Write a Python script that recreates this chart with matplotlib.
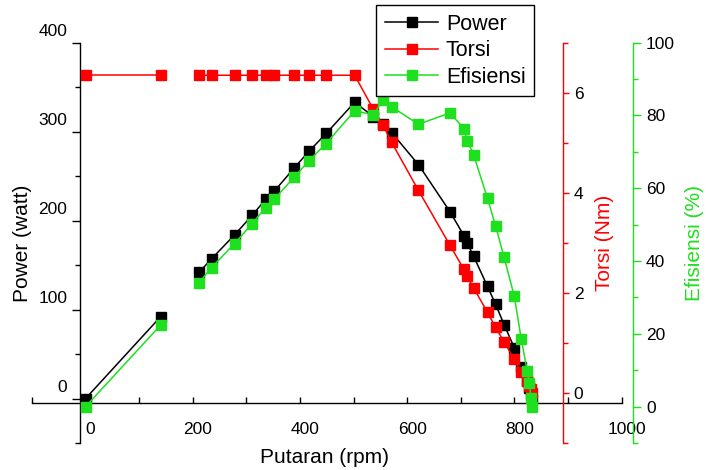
import numpy as np
import matplotlib
matplotlib.use("Agg")
import matplotlib.pyplot as plt
import matplotlib.transforms as mtransforms
from matplotlib.ticker import MultipleLocator

# data
rpm = [0, 140, 212, 235, 278, 311, 336, 352, 389, 417, 449, 502, 537, 555, 571,
       621, 680, 706, 712, 724, 750, 765, 781, 800, 813, 824, 828, 831, 833]
power = [0, 92, 142, 157, 184, 206, 224, 233, 259, 278, 298, 333, 317, 309, 299,
         263, 210, 183, 175, 160, 126, 106, 83, 57, 35, 20, 12, 5, 0]
torsi = [6.35, 6.35, 6.35, 6.35, 6.35, 6.35, 6.35, 6.35, 6.35, 6.35, 6.35, 6.35, 5.67, 5.35, 5.01,
         4.05, 2.95, 2.47, 2.33, 2.10, 1.61, 1.31, 1.02, 0.67, 0.41, 0.23, 0.13, 0.07, 0.0]
efisiensi = [0, 22.4, 34.1, 38.2, 44.8, 50.3, 54.7, 57.0, 63.0, 67.6, 72.3, 81.3, 80.2, 84.3, 82.4,
             77.6, 80.7, 76.4, 73.1, 69.2, 57.2, 49.7, 41.0, 30.3, 18.5, 9.8, 6.6, 2.5, 0]
gap = 2  # no line drawn between the 2nd and 3rd reading

RED = "#FF0000"
GREEN = "#1EE01E"

plt.rcParams.update({"font.family": ["Liberation Sans", "DejaVu Sans"], "font.size": 12.5})

fig = plt.figure(figsize=(7.06, 4.70), dpi=100)
ax = fig.add_axes([32 / 706, 27 / 470, 589.5 / 706, 400.3 / 470])
ax2 = ax.twinx()
ax3 = ax.twinx()
for a in (ax, ax2, ax3):
    a.patch.set_visible(False)


def draw(a, y, color, label):
    a.plot(rpm[:gap], y[:gap], color=color, lw=1.1)
    a.plot(rpm[gap:], y[gap:], color=color, lw=1.1)
    a.plot(rpm, y, ls="none", marker="s", ms=6.5, color=color)
    # proxy for the legend
    return a.plot([], [], color=color, lw=1.1, marker="s", ms=6.5, label=label)[0]


h1 = draw(ax, power, "black", "Power")
h2 = draw(ax2, torsi, RED, "Torsi")
h3 = draw(ax3, efisiensi, GREEN, "Efisiensi")

# host axes: power + rpm
ax.set_xlim(-100, 1000)
ax.set_ylim(-50, 400)
ax.spines["top"].set_visible(False)
ax.spines["right"].set_visible(False)
ax.spines["left"].set_position(("data", -10))
ax.spines["bottom"].set_position(("axes", 0.1))
ax.set_xticks([0, 200, 400, 600, 800, 1000])
ax.xaxis.set_minor_locator(MultipleLocator(100))
ax.set_yticks([0, 100, 200, 300, 400])
ax.yaxis.set_minor_locator(MultipleLocator(50))
ax.tick_params(axis="x", which="both", direction="in", length=4.5, width=1, pad=14, labelsize=12.5)
ax.tick_params(axis="y", which="major", direction="out", length=5.8, width=1, pad=3.5, labelsize=12.5)
ax.tick_params(axis="y", which="minor", direction="out", length=3.6, width=1)
for s in ("left", "bottom"):
    ax.spines[s].set_linewidth(1)

off_x = mtransforms.ScaledTranslation(0.05, 0, fig.dpi_scale_trans)
for lab in ax.get_xticklabels():
    lab.set_transform(lab.get_transform() + off_x)
off_y = mtransforms.ScaledTranslation(0, 0.13, fig.dpi_scale_trans)
for lab in ax.get_yticklabels():
    lab.set_transform(lab.get_transform() + off_y)

ax.set_xlabel("Putaran (rpm)", fontsize=15)
ax.xaxis.set_label_coords(0.497, -0.012)
ax.set_ylabel("Power (watt)", fontsize=15)
ax.yaxis.set_label_coords(0.0, 0.5)

# torsi axis
ax2.set_ylim(-1, 7)
for s in ("top", "left", "bottom"):
    ax2.spines[s].set_visible(False)
ax2.spines["right"].set_position(("axes", 0.9015))
ax2.spines["right"].set_color(RED)
ax2.spines["right"].set_linewidth(1)
ax2.set_yticks([0, 2, 4, 6])
ax2.yaxis.set_minor_locator(MultipleLocator(1))
ax2.tick_params(axis="y", which="both", direction="out", color=RED, width=1, labelsize=12.5)
ax2.tick_params(axis="y", which="major", length=4, pad=3.5)
ax2.tick_params(axis="y", which="minor", length=3.6)
ax2.set_ylabel("Torsi (Nm)", color=RED, fontsize=15)
ax2.yaxis.set_label_coords(0.955, 0.5)

# efisiensi axis
ax3.set_ylim(-10, 100)
for s in ("top", "left", "bottom"):
    ax3.spines[s].set_visible(False)
ax3.spines["right"].set_position(("axes", 1.0195))
ax3.spines["right"].set_color(GREEN)
ax3.spines["right"].set_linewidth(1)
ax3.set_yticks([0, 20, 40, 60, 80, 100])
ax3.yaxis.set_minor_locator(MultipleLocator(10))
ax3.tick_params(axis="y", which="both", direction="out", color=GREEN, width=1, labelsize=12.5)
ax3.tick_params(axis="y", which="major", length=5.8, pad=3.5)
ax3.tick_params(axis="y", which="minor", length=3.6)
ax3.set_ylabel("Efisiensi (%)", color=GREEN, fontsize=15)
ax3.yaxis.set_label_coords(1.108, 0.5)

leg = fig.legend(handles=[h1, h2, h3], loc="upper left",
                 bbox_to_anchor=(376 / 706, 1 - 5 / 470), fontsize=15.5,
                 frameon=True, fancybox=False, edgecolor="black", framealpha=1,
                 handlelength=2.5, handletextpad=0.35, labelspacing=0.26,
                 borderpad=0.4, borderaxespad=0, numpoints=1)
leg.get_frame().set_linewidth(1)

fig.savefig("out.png", dpi=100)
